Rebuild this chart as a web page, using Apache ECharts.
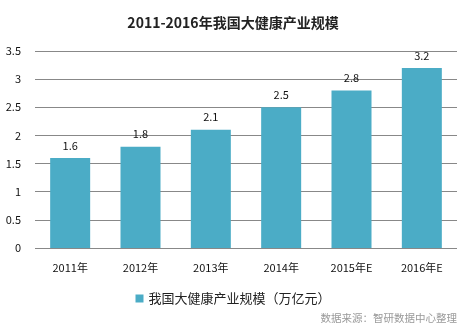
<!DOCTYPE html>
<html><head><meta charset="utf-8">
<script src="https://cdn.jsdelivr.net/npm/echarts@6/dist/echarts.min.js"></script>
<style>html,body{margin:0;padding:0;background:#fff}#c{width:466px;height:331px}</style>
</head><body><div id="c"></div>
<script>
const categories = ['2011年','2012年','2013年','2014年','2015年E','2016年E'];
const values = [1.6, 1.8, 2.1, 2.5, 2.8, 3.2];
const seriesName = '我国大健康产业规模（万亿元）';
const titleText = '2011-2016年我国大健康产业规模';
const sourceText = '数据来源：智研数据中心整理';
const font = '"Noto Sans CJK SC", "DejaVu Sans", sans-serif';
const chart = echarts.init(document.getElementById('c'));
chart.setOption({
  animation: false,
  textStyle: {fontFamily: font},
  title: [{text: titleText, left: 'center', top: 11, textStyle: {fontSize: 14, fontWeight: 'bold', color: '#222', fontFamily: font}},
          {text: sourceText, right: 4, bottom: 3, textStyle: {fontSize: 10.5, fontWeight: 'normal', color: '#999', fontFamily: font}}],
  legend: {bottom: 21, left: 'center', itemWidth: 8, itemHeight: 8, icon: 'rect', itemGap: 5,
    textStyle: {fontSize: 13, color: '#222', fontFamily: font}, data: [seriesName]},
  grid: {left: 35, right: 9, top: 51, bottom: 83},
  xAxis: {type: 'category', data: categories,
    axisLine: {show: false}, axisTick: {show: false},
    axisLabel: {fontSize: 11, color: '#111', margin: 14, fontFamily: font}},
  yAxis: {type: 'value', min: 0, max: 3.5, interval: 0.5,
    axisLine: {show: false}, axisTick: {show: false},
    axisLabel: {fontSize: 11, color: '#111', margin: 14, fontFamily: font},
    splitLine: {lineStyle: {color: '#888', width: 1}}},
  series: [{name: seriesName, type: 'bar', data: values, barWidth: 40,
    itemStyle: {color: '#4BACC6'},
    label: {show: true, position: 'top', distance: 7, fontSize: 11, color: '#111', fontFamily: font}}]
});
</script></body></html>
